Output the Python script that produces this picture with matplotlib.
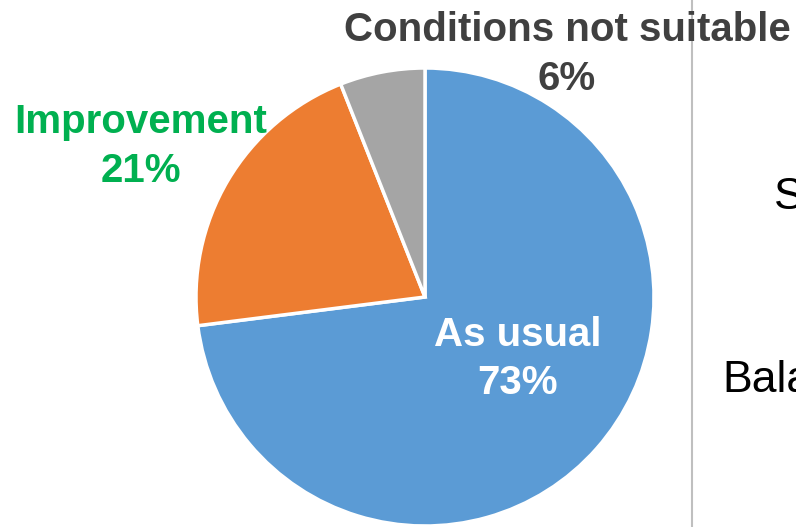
import matplotlib.pyplot as plt

categories = ['As usual', 'Improvement', 'Conditions not suitable']
shares = [73, 21, 6]
colors = ['#5B9BD5', '#ED7D31', '#A5A5A5']
label_colors = ['white', '#00B050', '#404040']

W, H = 796, 527
fig = plt.figure(figsize=(W / 100, H / 100), dpi=100)
ax = fig.add_axes([0, 0, 1, 1])

# pie in pixel coords (y measured from bottom)
ax.pie(shares, colors=colors, startangle=90, counterclock=False,
       center=(425, H - 297), radius=229,
       wedgeprops=dict(edgecolor='white', linewidth=2.5), frame=True)
ax.set_xlim(0, W)
ax.set_ylim(0, H)
ax.set_aspect('equal')
ax.axis('off')

# label centre x and baselines of the two lines (pixels from top)
label_pos = [(518, 346, 394), (141, 133, 182), (567, 41, 90)]
for name, val, col, (x, y1, y2) in zip(categories, shares, label_colors, label_pos):
    ax.text(x, H - y1, name, color=col, ha='center', va='baseline',
            fontsize=29, fontweight='bold', family='Liberation Sans')
    ax.text(x, H - y2, f'{val}%', color=col, ha='center', va='baseline',
            fontsize=29, fontweight='bold', family='Liberation Sans')

# divider and clipped text from the neighbouring panel
ax.plot([692, 692], [0, H], color='#BFBFBF', lw=1.5, clip_on=False)
ax.text(774, H - 209, 'S', fontsize=32, family='Liberation Sans',
        va='baseline', ha='left', color='black')
ax.text(722, H - 392, 'Bala', fontsize=32, family='Liberation Sans',
        va='baseline', ha='left', color='black')

fig.savefig('out.png', dpi=100)
